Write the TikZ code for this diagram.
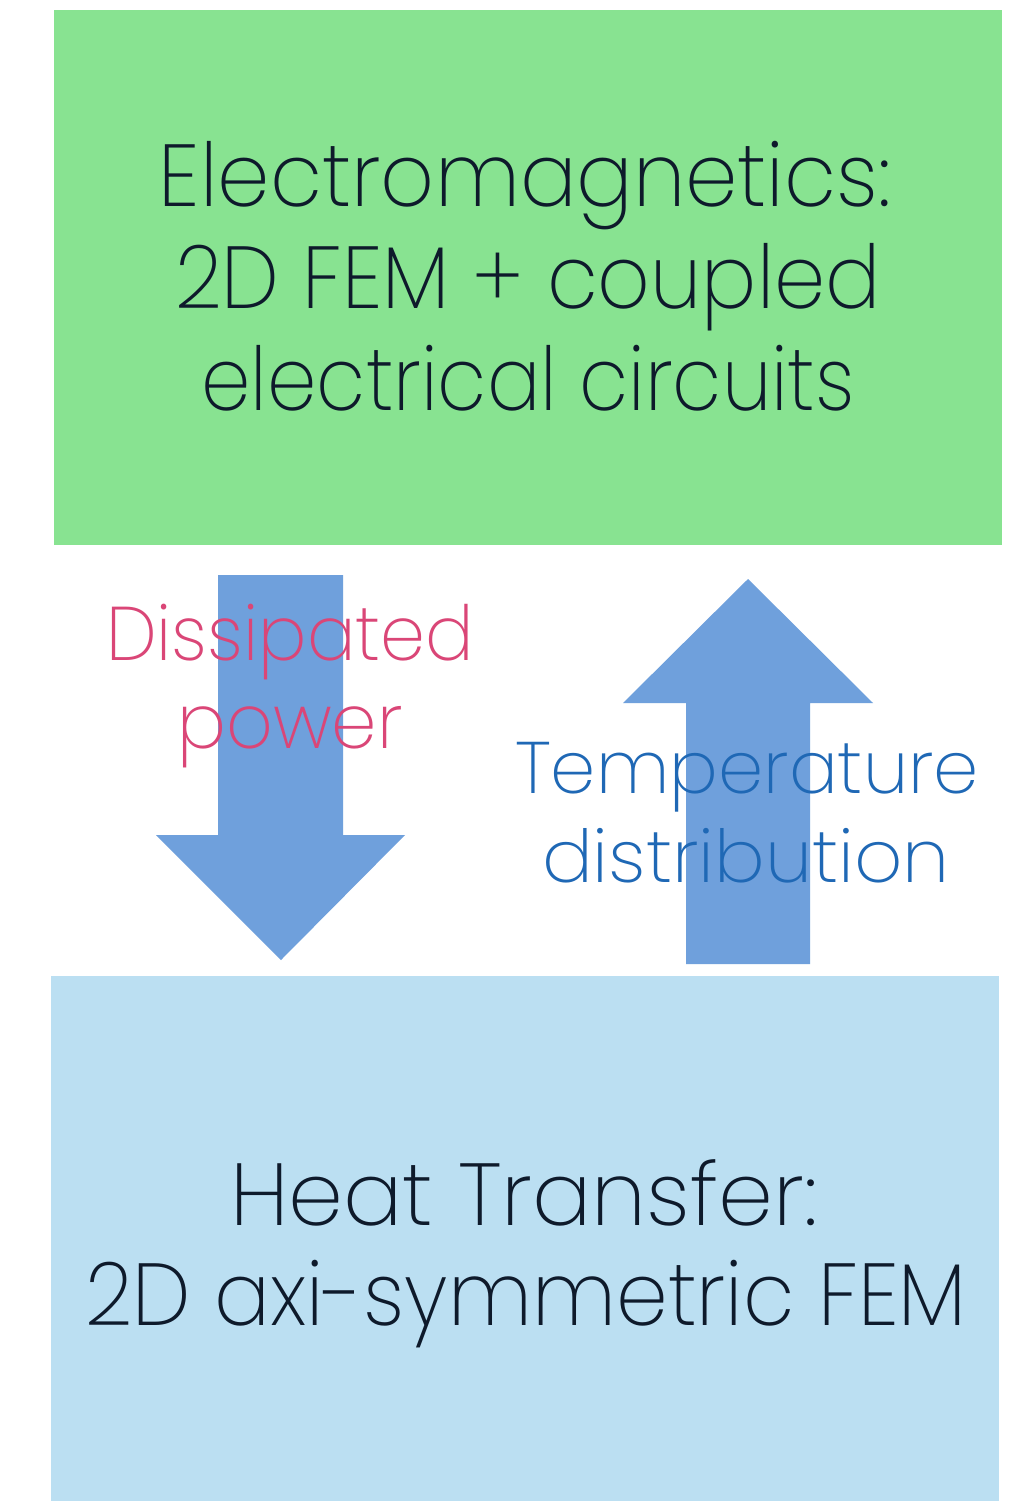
\documentclass[tikz,border=0pt]{standalone}
\usepackage{fontspec}
\setmainfont{Poppins ExtraLight}
\definecolor{emgreen}{HTML}{88E391}
\definecolor{htblue}{HTML}{BBDFF2}
\definecolor{arrowblue}{HTML}{6FA0DC}
\definecolor{pinktext}{HTML}{DA4677}
\definecolor{bluetext}{HTML}{1F68B5}
\definecolor{darktext}{HTML}{0E1A2B}
\begin{document}
\begin{tikzpicture}[x=1pt,y=-1pt,
  boxtext/.style={anchor=base,inner sep=0pt,text=darktext,font=\fontsize{88}{100}\selectfont},
  pinklabel/.style={anchor=base,inner sep=0pt,text=pinktext,font=\fontsize{76}{88}\selectfont},
  bluelabel/.style={anchor=base,inner sep=0pt,text=bluetext,font=\fontsize{73}{88}\selectfont},
  blockarrow/.style={fill=arrowblue,draw=none}]
\useasboundingbox (0,0) rectangle (1016,1501);
\fill[white] (0,0) rectangle (1016,1501);
% boxes
\fill[emgreen] (54,10) rectangle (1002,545);
\fill[htblue] (51,976) rectangle (999,1501);
% block arrows
\fill[blockarrow] (218,575) -- (343,575) -- (343,835) -- (405,835) -- (281,960) -- (156,835) -- (218,835) -- cycle;
\fill[blockarrow] (686,964) -- (810,964) -- (810,703) -- (873,703) -- (748,579) -- (623,703) -- (686,703) -- cycle;
% texts
\node[boxtext] (em1) at (525,206) {\scalebox{0.954}[1]{Electromagnetics:}};
\node[boxtext] (em2) at (528,308) {\scalebox{0.932}[1]{2D FEM + coupled}};
\node[boxtext] (em3) at (528,410) {\scalebox{0.90}[1]{electrical circuits}};
\node[boxtext] (ht1) at (524,1225) {Heat Transfer:};
\node[boxtext] (ht2) at (526,1325) {\scalebox{0.942}[1]{2D axi-symmetric FEM}};
\node[pinklabel] (dp1) at (290,660) {\scalebox{0.947}[1]{Dissipated}};
\node[pinklabel] (dp2) at (290,748) {\scalebox{0.957}[1]{power}};
\node[bluelabel] (td1) at (747,793) {\scalebox{0.993}[1]{Temperature}};
\node[bluelabel] (td2) at (746,882) {\scalebox{1.033}[1]{distribution}};
\end{tikzpicture}
\end{document}
